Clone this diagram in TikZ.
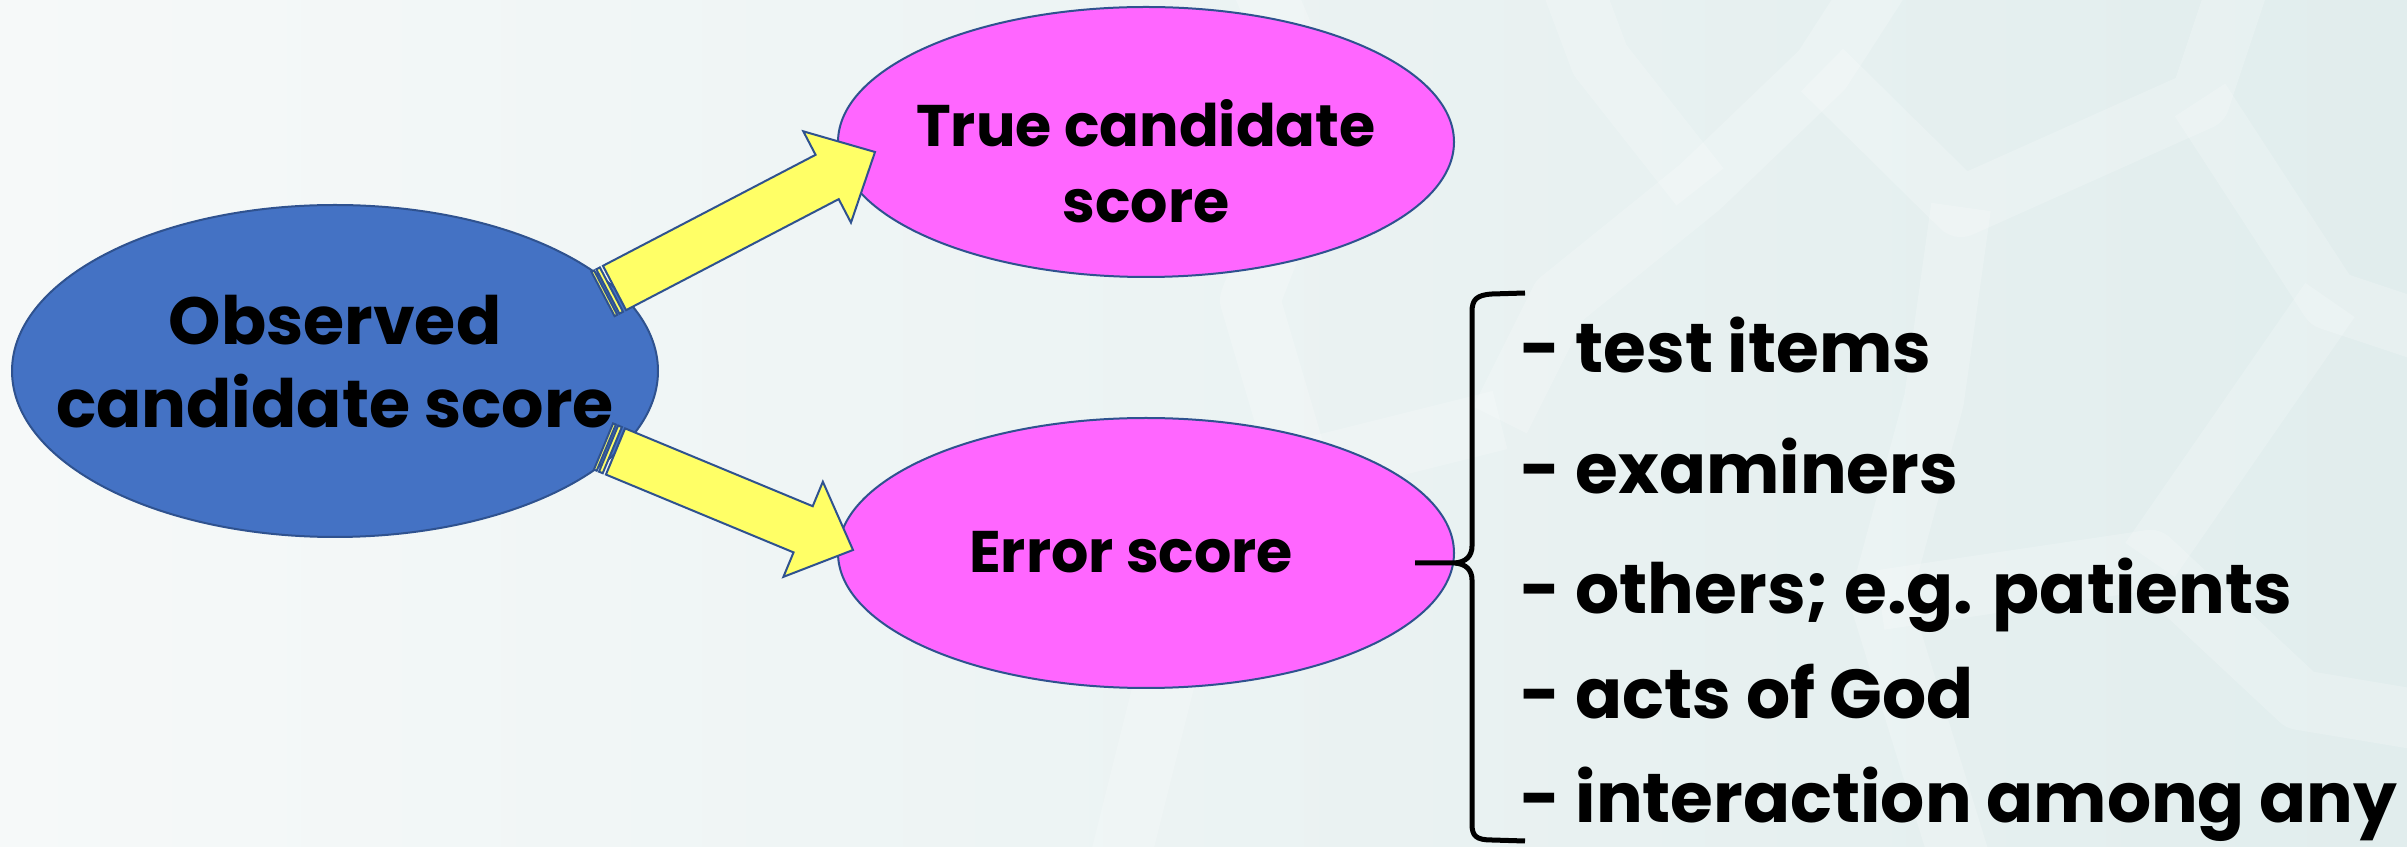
\documentclass[tikz,border=0pt]{standalone}
\usepackage{fontspec}
\setmainfont{Poppins}
\usetikzlibrary{shapes.geometric,calc}

\definecolor{obsblue}{HTML}{4472C4}
\definecolor{edgeblue}{HTML}{2F528F}
\definecolor{pinkfill}{HTML}{FF66FF}
\definecolor{arrowyellow}{HTML}{FFFF66}
\definecolor{bgleft}{HTML}{F6F9F9}
\definecolor{bgright}{HTML}{E1EDED}

% striped block arrow from coordinate #1 (tail) to coordinate #2 (tip)
\newcommand\yellowarrow[2]{%
  \coordinate (#1-b0) at ($(#1)!3.9pt!(#2)$);
  \coordinate (#1-h0) at ($(#2)!16.2pt!(#1)$);
  \coordinate (#1-sa) at ($(#1)!0.9pt!(#2)$);
  \coordinate (#1-sb) at ($(#1)!1.65pt!(#2)$);
  \coordinate (#1-sc) at ($(#1)!2.85pt!(#2)$);
  \draw[arrowpart] ($(#1)!7.5pt!90:(#2)$) -- ($(#1-sa)!7.5pt!90:(#2)$)
        -- ($(#1-sa)!7.5pt!-90:(#2)$) -- ($(#1)!7.5pt!-90:(#2)$) -- cycle;
  \draw[arrowpart] ($(#1-sb)!7.5pt!90:(#2)$) -- ($(#1-sc)!7.5pt!90:(#2)$)
        -- ($(#1-sc)!7.5pt!-90:(#2)$) -- ($(#1-sb)!7.5pt!-90:(#2)$) -- cycle;
  \draw[arrowpart] ($(#1-b0)!7.5pt!90:(#2)$) -- ($(#1-h0)!7.5pt!90:(#2)$)
        -- ($(#1-h0)!15.45pt!90:(#2)$) -- (#2)
        -- ($(#1-h0)!15.45pt!-90:(#2)$) -- ($(#1-h0)!7.5pt!-90:(#2)$)
        -- ($(#1-b0)!7.5pt!-90:(#2)$) -- cycle;
}

\begin{document}
\begin{tikzpicture}[x=0.3pt,y=-0.3pt,
  blob/.style={ellipse, draw=edgeblue, line width=0.6pt, inner sep=0pt},
  lbl/.style={inner sep=0pt, anchor=base},
  obslbl/.style={lbl, font=\fontsize{20}{24}\selectfont\bfseries},
  partlbl/.style={lbl, font=\fontsize{17.6}{21}\selectfont\bfseries},
  item/.style={lbl, anchor=base west, font=\fontsize{20.8}{25}\selectfont\bfseries},
  arrowpart/.style={fill=arrowyellow, draw=edgeblue, line width=0.6pt, line join=miter},
  bracestroke/.style={line width=1.5pt, line join=round},
  mesh/.style={draw=white, opacity=0.2, line width=18pt, line join=round}]

% background
\useasboundingbox (0,0) rectangle (2407,847);
\shade[left color=bgleft, right color=bgright] (0,0) rectangle (2407,847);
\begin{scope}[mesh]
  \draw (1880,-20) -- (1822,70) -- (1700,187) -- (1560,300) -- (1500,420);
  \draw (1822,70) -- (1961,207) -- (2200,100) -- (2240,-20);
  \draw (1961,207) -- (1934,400) -- (1880,600) -- (1960,860);
  \draw (2200,100) -- (2330,300) -- (2420,330);
  \draw (1700,187) -- (1600,60) -- (1570,-20);
  \draw (1880,600) -- (2150,560) -- (2300,700) -- (2420,720);
  \draw (2150,560) -- (2330,300);
  \draw (1500,420) -- (1300,470) -- (1180,620) -- (1120,860);
  \draw (1300,470) -- (1250,300) -- (1320,120) -- (1260,-20);
\end{scope}

% scores
\node[blob, fill=obsblue, minimum width=193.8pt, minimum height=99.6pt] (obs) at (335,371) {};
\node[blob, fill=pinkfill, minimum width=184.8pt, minimum height=81pt] (true) at (1146,142) {};
\node[blob, fill=pinkfill, minimum width=184.8pt, minimum height=81pt] (err) at (1146,553) {};

\node[obslbl] (obs1) at (335,345) {Observed};
\node[obslbl] (obs2) at (335,428) {candidate score};
\node[partlbl] (true1) at (1146,147) {True candidate};
\node[partlbl] (true2) at (1146,223) {score};
\node[partlbl] (err1) at (1131,573) {Error score};

% arrows from observed score to its two parts
\coordinate (up-s) at (603,294);
\coordinate (up-e) at (875,152);
\coordinate (dn-s) at (603.5,446.5);
\coordinate (dn-e) at (853,550);
\yellowarrow{up-s}{up-e}
\yellowarrow{dn-s}{dn-e}

% brace gathering the sources of error
\coordinate (br-stem) at (1415,563);
\coordinate (br-top) at (1525,293);
\coordinate (br-bot) at (1525,841);
\draw[bracestroke] (br-top) -- (1492,294) .. controls (1476,295) and (1472,300) .. (1472,312)
  -- (1472,546) .. controls (1472,556) and (1466,562) .. (1455,563) -- (br-stem);
\draw[bracestroke] (1455,563) .. controls (1466,564) and (1472,570) .. (1472,580)
  -- (1472,824) .. controls (1472,836) and (1476,840) .. (1492,840) -- (br-bot);

\node[item] (i1) at (1520,373) {- test items};
\node[item] (i2) at (1520,494) {- examiners};
\node[item] (i3) at (1520,614) {- others; e.g. patients};
\node[item] (i4) at (1520,719) {- acts of God};
\node[item] (i5) at (1520,823) {- interaction among any};
\end{tikzpicture}
\end{document}
